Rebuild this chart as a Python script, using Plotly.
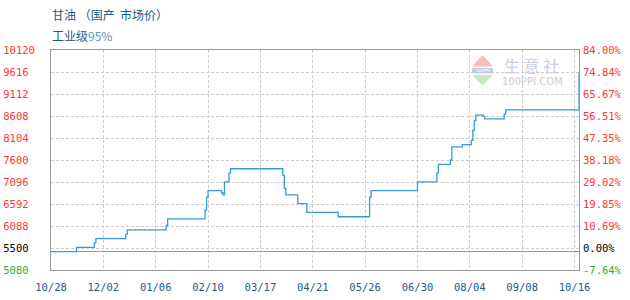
import plotly.graph_objects as go

# ---------------- data ----------------
dates = [
    "2022-10-28", "2022-11-14", "2022-11-26", "2022-11-27", "2022-12-17", "2022-12-18",
    "2023-01-13", "2023-01-14", "2023-02-08", "2023-02-09", "2023-02-10", "2023-02-19",
    "2023-02-20", "2023-02-21", "2023-02-24", "2023-02-25", "2023-04-01", "2023-04-02",
    "2023-04-03", "2023-04-11", "2023-04-17", "2023-05-08", "2023-05-29", "2023-05-30",
    "2023-06-30", "2023-07-13", "2023-07-14", "2023-07-22", "2023-07-23", "2023-07-30",
    "2023-08-05", "2023-08-06", "2023-08-07", "2023-08-08", "2023-08-13", "2023-08-14",
    "2023-08-27", "2023-08-28", "2023-10-16",
]
prices = [
    5500, 5600, 5700, 5800, 5900, 6000,
    6100, 6250, 6450, 6750, 6900, 6850,
    6800, 7100, 7300, 7400, 7250, 6950,
    6800, 6600, 6400, 6300, 6750, 6900,
    7100, 7300, 7500, 7600, 7900, 7950,
    8050, 8280, 8500, 8630, 8600, 8540,
    8650, 8750, 9600,
]
base_price = 5500
x_range = ["2022-10-28", "2023-10-16"]
y_range = [5080, 10120]

x_tick_dates = ["2022-10-28", "2022-12-02", "2023-01-06", "2023-02-10", "2023-03-17",
                "2023-04-21", "2023-05-26", "2023-06-30", "2023-08-04", "2023-09-08",
                "2023-10-13"]
x_tick_labels = ["10/28", "12/02", "01/06", "02/10", "03/17", "04/21", "05/26",
                 "06/30", "08/04", "09/08", "10/16"]

y_tick_values = [5080, 5584, 6088, 6592, 7096, 7600, 8104, 8608, 9112, 9616, 10120]
y_tick_labels = ["5080", "5500", "6088", "6592", "7096", "7600", "8104", "8608",
                 "9112", "9616", "10120"]
pct_tick_labels = ["-7.64%", "0.00%", "10.69%", "19.85%", "29.02%", "38.18%",
                   "47.35%", "56.51%", "65.67%", "74.84%", "84.00%"]

# ---------------- styling ----------------
W, H = 630, 300
L, R, T, B = 51, 51, 50, 30
RED, GREEN, BLACK = "#ff3333", "#33aa33", "#000000"
tick_colors = [GREEN, BLACK] + [RED] * (len(y_tick_values) - 2)
LINE = "#3a9ad9"
GRID = "#cccccc"
AXIS = "#999999"
NAVY = "#1d5a8c"
MONO = "DejaVu Sans Mono"
NB = chr(160)


def pct(v):
    return (v / base_price - 1) * 100


def px_x(px):
    return (px - L) / (W - L - R)


def px_y(py):
    return (H - B - py) / (H - T - B)


left_text = [
    f"<span style='color:{c}'>{lab}{NB * (5 - len(lab))}</span>"
    for lab, c in zip(y_tick_labels, tick_colors)
]
right_text = [
    f"<span style='color:{c}'>{lab}</span>" for lab, c in zip(pct_tick_labels, tick_colors)
]

fig = go.Figure()
fig.add_trace(go.Scatter(
    x=dates, y=prices, mode="lines", line=dict(color=LINE, width=1.3, shape="hv"),
    hoverinfo="skip", yaxis="y",
))
fig.add_trace(go.Scatter(
    x=dates, y=[pct(v) for v in prices], mode="lines",
    line=dict(color="rgba(0,0,0,0)", width=0, shape="hv"),
    hoverinfo="skip", yaxis="y2", showlegend=False,
))

fig.update_layout(
    width=W, height=H, margin=dict(l=L, r=R, t=T, b=B, autoexpand=False),
    paper_bgcolor="white", plot_bgcolor="white", showlegend=False,
    xaxis=dict(
        type="date", range=x_range, tickvals=x_tick_dates, ticktext=x_tick_labels,
        showgrid=True, gridcolor=GRID, griddash="3px,2px", gridwidth=1,
        showline=True, linecolor=AXIS, linewidth=1, mirror=True,
        ticks="", ticklabelstandoff=7, automargin=False,
        tickfont=dict(family=MONO, size=10.5, color=NAVY), zeroline=False,
    ),
    yaxis=dict(
        range=y_range, tickvals=y_tick_values, ticktext=left_text,
        showgrid=True, gridcolor=GRID, griddash="3px,2px", gridwidth=1,
        showline=True, linecolor=AXIS, linewidth=1, mirror=True,
        ticks="", ticklabelstandoff=13, zeroline=False, automargin=False,
        tickfont=dict(family=MONO, size=10.5, color=RED),
    ),
    yaxis2=dict(
        range=[pct(y_range[0]), pct(y_range[1])],
        tickvals=[pct(v) for v in y_tick_values], ticktext=right_text,
        overlaying="y", side="right", showgrid=False, automargin=False,
        zeroline=True, zerolinecolor=AXIS, zerolinewidth=1,
        showline=False, ticks="", ticklabelstandoff=3,
        tickfont=dict(family=MONO, size=10.5, color=RED),
    ),
)

# title
fig.add_annotation(
    text=f"甘油 （国产{NB}{NB}市场价）", xref="paper", yref="paper", x=px_x(50), y=px_y(15),
    xanchor="left", yanchor="middle", showarrow=False,
    font=dict(family="Noto Sans CJK SC", size=12, color=NAVY),
)
fig.add_annotation(
    text="工业级<span style='color:#5d8fc2'>95%</span>", xref="paper", yref="paper",
    x=px_x(50), y=px_y(35), xanchor="left", yanchor="middle", showarrow=False,
    font=dict(family="Noto Sans CJK SC", size=12, color=NAVY),
)

# watermark (decorative logo)
def tri(p):
    return "M " + " L ".join(f"{px_x(a)},{px_y(b)}" for a, b in p) + " Z"

fig.add_shape(type="path", xref="paper", yref="paper", layer="below",
              path=tri([(472, 66.5), (482.5, 55), (493, 66.5)]),
              fillcolor="#f5bcbc", line=dict(width=0))
fig.add_shape(type="path", xref="paper", yref="paper", layer="below",
              path=tri([(472, 75), (493, 75), (482.5, 85.5)]),
              fillcolor="#c4e8c4", line=dict(width=0))
fig.add_shape(type="rect", xref="paper", yref="paper", layer="below",
              x0=px_x(472), x1=px_x(493), y0=px_y(73.5), y1=px_y(68),
              fillcolor="#c7cde0", line=dict(width=0))
fig.add_annotation(text="100PPI", xref="paper", yref="paper", x=px_x(482.5), y=px_y(70.8),
                   xanchor="center", yanchor="middle", showarrow=False, borderpad=0,
                   font=dict(family="DejaVu Sans", size=4, color="white"))
fig.add_annotation(text="生 意 社", xref="paper", yref="paper", x=px_x(531), y=px_y(65),
                   xanchor="center", yanchor="middle", showarrow=False, borderpad=0,
                   font=dict(family="Noto Sans CJK SC", size=16, color="#c9cee2"))
fig.add_annotation(text="100PPI.COM", xref="paper", yref="paper", x=px_x(532), y=px_y(81.5),
                   xanchor="center", yanchor="middle", showarrow=False, borderpad=0,
                   font=dict(family="DejaVu Sans", size=10, color="#cccccc"))

fig.write_html("out.html")
